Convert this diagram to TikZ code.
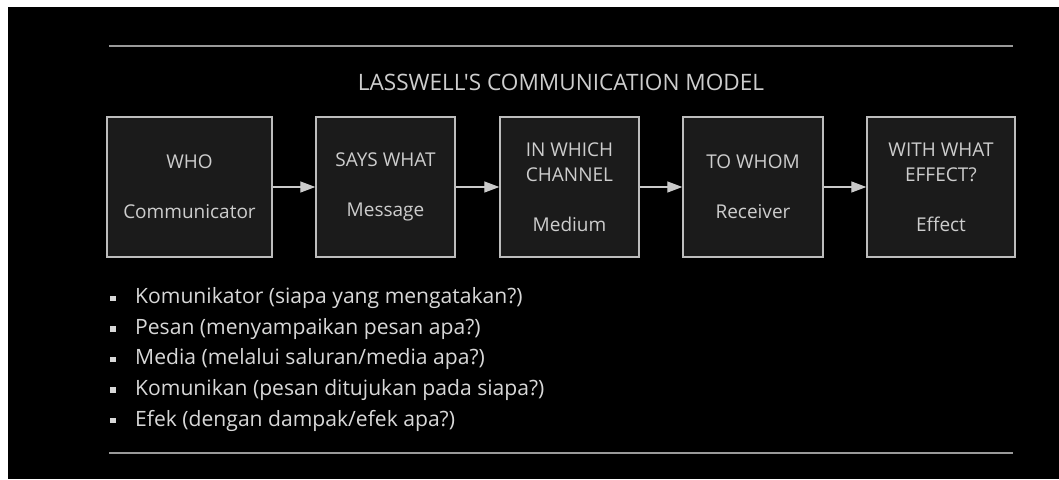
\documentclass[tikz,border=0pt]{standalone}
\usepackage{fontspec}
\setmainfont{Open Sans}
\newfontfamily\titlefont{Open Sans}[Ligatures=TeXOff]
\usetikzlibrary{arrows.meta}
\definecolor{boxfill}{HTML}{1B1B1B}
\definecolor{boxline}{HTML}{BDBDBD}
\definecolor{txtgray}{HTML}{CDCDCD}
\definecolor{listgray}{HTML}{D8D8D8}

\begin{document}
\begin{tikzpicture}[x=1pt,y=-1pt,
  stage/.style={draw=boxline,line width=1.4pt,fill=boxfill,text=txtgray,
    minimum height=140pt,inner sep=0pt,align=center,
    font=\fontsize{19}{25}\selectfont},
  flow/.style={draw=boxline!80!white,line width=1.3pt,
    -{Triangle[length=15pt,width=11pt]}},
  rule/.style={draw=gray!80,line width=1.6pt},
  bullet/.style={fill=listgray,minimum size=5.5pt,inner sep=0pt},
  entry/.style={anchor=west,text=listgray,inner sep=0pt,
    font=\fontsize{21.1}{24}\selectfont}]
% background
\fill[white] (0,0) rectangle (1059,479);
\fill[black] (8,7) rectangle (1059,479);
\useasboundingbox (0,0) rectangle (1059,479);
% rules and title
\coordinate (topL) at (109,46);
\coordinate (topR) at (1013,46);
\coordinate (botL) at (109,453);
\coordinate (botR) at (1013,453);
\draw[rule] (topL) -- (topR);
\draw[rule] (botL) -- (botR);
\node[text=txtgray,font=\titlefont\fontsize{22.6}{26}\selectfont] (title) at (561,82)
  {LASSWELL'S COMMUNICATION MODEL};
% the five stages
\node[stage,minimum width=165pt] (who) at (189.5,187) {WHO\\[25pt]Communicator};
\node[stage,minimum width=139pt] (what) at (385.5,187) {SAYS WHAT\\[25pt]Message};
\node[stage,minimum width=139pt] (channel) at (569.5,187) {IN WHICH\\CHANNEL\\[25pt]Medium};
\node[stage,minimum width=140pt] (whom) at (753,187) {TO WHOM\\[25pt]Receiver};
\node[stage,minimum width=148pt] (effect) at (941,187) {WITH WHAT\\EFFECT?\\[25pt]Effect};
\draw[flow] (who) -- (what);
\draw[flow] (what) -- (channel);
\draw[flow] (channel) -- (whom);
\draw[flow] (whom) -- (effect);
% list
\foreach \txt [count=\i] in {Komunikator (siapa yang mengatakan?),
    Pesan (menyampaikan pesan apa?),
    Media (melalui saluran/media apa?),
    Komunikan (pesan ditujukan pada siapa?),
    Efek (dengan dampak/efek apa?)}{
  \node[bullet] (dot\i) at (113,268+30.5*\i) {};
  \node[entry] (item\i) at (135,268+30.5*\i) {\txt};
}
\end{tikzpicture}
\end{document}
